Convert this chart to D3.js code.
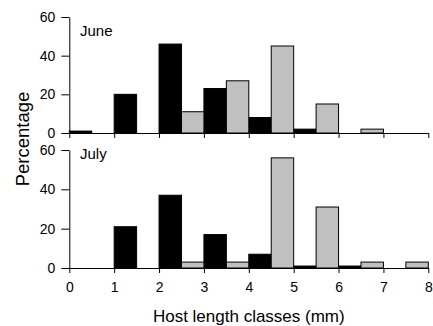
<!DOCTYPE html>
<html>
<head>
<meta charset="utf-8">
<script src="https://cdn.jsdelivr.net/npm/d3@7"></script>
<style>
  html, body { margin: 0; padding: 0; background: #fff; }
  svg { display: block; font-family: "Liberation Sans", Arial, sans-serif; }
</style>
</head>
<body>
<svg id="chart" width="433" height="326"></svg>
<script>
// Host length classes (mm): each class k spans [k, k+1]; dark bar in first half, grey in second half
const classStarts = [0, 1, 2, 3, 4, 5, 6, 7];
const xTickLabels = [0, 1, 2, 3, 4, 5, 6, 7, 8];
const yTickLabels = [0, 20, 40, 60];

const juneBlack = [1, 20, 46, 23, 8, 2, 0, 0];
const juneGray  = [0, 0, 11, 27, 45, 15, 2, 0];
const julyBlack = [0, 21, 37, 17, 7, 1, 1, 0];
const julyGray  = [0, 0, 3, 3, 56, 31, 3, 3];

const panels = [
  { name: "June", black: juneBlack, gray: juneGray, top: 17, bottom: 133, labelY: 36 },
  { name: "July", black: julyBlack, gray: julyGray, top: 150, bottom: 268, labelY: 159 }
];

const svg = d3.select("#chart");
const x = d3.scaleLinear().domain([0, 8]).range([69.3, 428.3]);

panels.forEach((p, i) => {
  const y = d3.scaleLinear().domain([0, 60]).range([p.bottom, p.top]);
  const g = svg.append("g");

  const series = [
    { vals: p.black, offset: 0, fill: "#000000" },
    { vals: p.gray, offset: 0.5, fill: "#c0c0c0" }
  ];
  series.forEach(s => {
    g.selectAll(null)
      .data(classStarts.map((c, j) => ({ c: c + s.offset, v: s.vals[j] })).filter(d => d.v > 0))
      .enter().append("rect")
      .attr("x", d => x(d.c))
      .attr("width", d => x(d.c + 0.5) - x(d.c))
      .attr("y", d => y(d.v))
      .attr("height", d => y(0) - y(d.v))
      .attr("fill", s.fill)
      .attr("stroke", "#000")
      .attr("stroke-width", 1);
  });

  // x axis
  const xAxis = d3.axisBottom(x).tickValues(xTickLabels).tickSize(5).tickSizeOuter(0);
  if (i === 0) xAxis.tickFormat("");
  else xAxis.tickFormat(d3.format("d")).tickPadding(9);
  const xg = g.append("g").attr("transform", `translate(0,${p.bottom})`).call(xAxis);
  xg.selectAll("text").attr("font-size", 14).attr("fill", "#000").attr("font-family", null);

  // y axis
  const yAxis = d3.axisLeft(y).tickValues(yTickLabels).tickSize(8).tickSizeOuter(0).tickPadding(6);
  const yg = g.append("g").attr("transform", `translate(${x(0)},0)`).call(yAxis);
  yg.selectAll("text").attr("font-size", 14).attr("fill", "#000").attr("font-family", null);

  svg.selectAll(".domain").attr("stroke", "#000");
  svg.selectAll(".tick line").attr("stroke", "#000");

  g.append("text")
    .attr("x", 80)
    .attr("y", p.labelY)
    .attr("font-size", 15)
    .attr("fill", "#000")
    .text(p.name);
});

svg.append("text")
  .attr("transform", "translate(29,139) rotate(-90)")
  .attr("text-anchor", "middle")
  .attr("font-size", 18.5)
  .attr("fill", "#000")
  .text("Percentage");

svg.append("text")
  .attr("x", (x(0) + x(8)) / 2)
  .attr("y", 322)
  .attr("text-anchor", "middle")
  .attr("font-size", 17)
  .attr("fill", "#000")
  .text("Host length classes (mm)");
</script>
</body>
</html>
